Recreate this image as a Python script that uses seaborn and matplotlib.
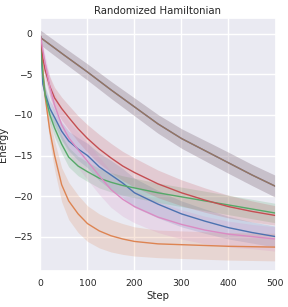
import numpy as np
import pandas as pd
import seaborn as sns
import matplotlib
matplotlib.use("Agg")
import matplotlib.pyplot as plt

# -----------------------------
# Data
# -----------------------------
steps = [0, 5, 10, 20, 30, 45, 60, 80, 100, 125, 150, 175, 200, 250, 300, 350, 400, 450, 500]

blue_mean = [-0.3, -6.2, -7.4, -9.2, -10.3, -12.0, -13.2, -14.2, -15.0, -16.4, -17.4, -18.4, -19.6, -21.0, -22.2, -23.1, -23.9, -24.5, -25.0]
blue_sd = [0.3, 0.8, 0.9, 1.0, 1.0, 1.1, 1.2, 1.4, 1.5, 1.7, 1.8, 1.8, 1.8, 1.7, 1.6, 1.5, 1.4, 1.3, 1.3]

orange_mean = [-0.3, -4.5, -7.8, -12.0, -15.0, -18.6, -20.6, -22.2, -23.4, -24.3, -24.9, -25.3, -25.6, -25.9, -26.0, -26.1, -26.2, -26.25, -26.3]
orange_sd = [0.3, 0.6, 0.9, 1.4, 1.8, 2.1, 2.3, 2.3, 2.2, 2.1, 2.0, 1.9, 1.8, 1.7, 1.7, 1.7, 1.7, 1.7, 1.7]

green_mean = [-0.3, -5.0, -7.6, -10.0, -11.6, -13.6, -15.2, -16.3, -17.0, -17.8, -18.3, -18.7, -19.0, -19.6, -20.1, -20.6, -21.1, -21.6, -22.1]
green_sd = [0.3, 0.7, 0.9, 1.0, 1.1, 1.1, 1.2, 1.2, 1.2, 1.2, 1.2, 1.2, 1.2, 1.2, 1.2, 1.2, 1.2, 1.2, 1.2]

red_mean = [-0.3, -3.0, -4.5, -6.5, -7.9, -9.2, -10.3, -11.7, -12.9, -14.2, -15.3, -16.3, -17.1, -18.5, -19.6, -20.5, -21.3, -21.9, -22.4]
red_sd = [0.3, 0.8, 1.0, 1.2, 1.3, 1.4, 1.5, 1.6, 1.7, 1.8, 1.8, 1.8, 1.8, 1.7, 1.6, 1.5, 1.4, 1.3, 1.2]

brown_steps = [0, 50, 100, 150, 200, 250, 300, 350, 400, 450, 500]
brown_mean = [-0.45, -2.6, -4.7, -6.9, -9.0, -11.1, -12.9, -14.4, -15.9, -17.4, -18.8]
brown_sd = [0.9, 0.95, 1.0, 1.05, 1.1, 1.15, 1.2, 1.25, 1.3, 1.3, 1.35]

pink_mean = [-0.3, -2.0, -3.6, -6.6, -8.8, -11.2, -12.8, -14.3, -15.7, -17.5, -19.2, -20.4, -21.3, -22.6, -23.5, -24.2, -24.7, -25.0, -25.3]
pink_sd = [0.3, 0.6, 0.9, 1.2, 1.5, 1.8, 2.0, 2.2, 2.3, 2.3, 2.2, 2.1, 2.0, 1.9, 1.8, 1.7, 1.6, 1.5, 1.5]

# -----------------------------
# Plot
# -----------------------------
sns.set_theme(style="darkgrid", context="notebook", font_scale=0.61,
              rc={"xtick.major.size": 0, "ytick.major.size": 0,
                  "xtick.major.pad": 6, "ytick.major.pad": 6})
pal = sns.color_palette("deep")

series = [
    (steps, blue_mean, blue_sd, pal[0]),
    (steps, orange_mean, orange_sd, pal[1]),
    (steps, green_mean, green_sd, pal[2]),
    (steps, red_mean, red_sd, pal[3]),
    (brown_steps, brown_mean, brown_sd, pal[4]),   # purple, hidden under brown
    (brown_steps, brown_mean, brown_sd, pal[5]),
    (steps, pink_mean, pink_sd, pal[6]),
]

fig, ax = plt.subplots(figsize=(2.88, 3.07), dpi=100)
fig.subplots_adjust(left=0.1406, right=0.9566, bottom=0.1185, top=0.9423)

for x, m, s, c in series:
    m = np.array(m)
    s = np.array(s)
    ax.fill_between(x, m - s, m + s, color=c, alpha=0.2, linewidth=0)
    sns.lineplot(x=x, y=m, ax=ax, color=c, linewidth=1.0)

ax.set_xlim(0, 500)
ax.set_ylim(-29.2, 2.0)
ax.set_xticks([0, 100, 200, 300, 400, 500])
ax.set_yticks([0, -5, -10, -15, -20, -25])
ax.set_title("Randomized Hamiltonian", pad=3)
ax.set_xlabel("Step", labelpad=2)
ax.set_ylabel("Energy", labelpad=3)

plt.savefig("out.png", dpi=100)
